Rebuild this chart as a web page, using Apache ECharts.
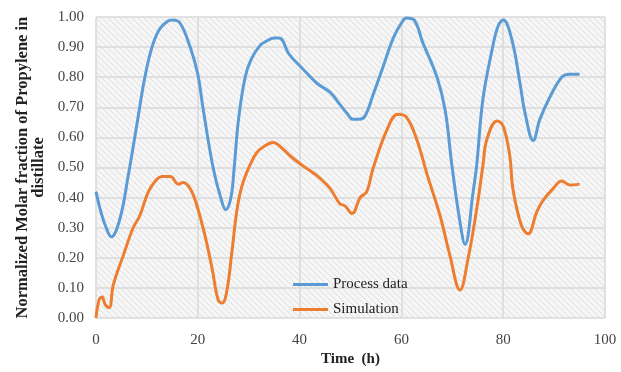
<!DOCTYPE html>
<html>
<head>
<meta charset="utf-8">
<script src="https://cdn.jsdelivr.net/npm/echarts@6/dist/echarts.min.js"></script>
<style>
  html, body { margin: 0; padding: 0; background: #fff; }
  #chart { width: 621px; height: 372px; }
</style>
</head>
<body>
<div id="chart"></div>
<script>
// Process data (time in h, normalized molar fraction)
const processTime = [0, 1, 2, 3, 4.7, 6.3, 8, 9.6, 11, 12.5, 14, 15, 16.5, 18.5, 20, 21, 23, 24.5, 25.5, 26.5, 27.1, 28, 29.3, 30.5, 32.2, 33.5, 35, 36, 38, 40.5, 43.4, 46, 47.9, 49.3, 50.5, 51.5, 52.8, 54.4, 56.4, 58.4, 60, 61, 62.5, 64.2, 67, 68.6, 69.9, 71.5, 72.5, 74.1, 74.8, 76, 77.8, 79, 80, 81.7, 83.3, 84.3, 85.9, 87.2, 89.2, 91.5, 93, 95];
const processValue = [0.42, 0.35, 0.30, 0.27, 0.33, 0.47, 0.64, 0.80, 0.90, 0.96, 0.985, 0.99, 0.98, 0.90, 0.81, 0.70, 0.50, 0.40, 0.36, 0.40, 0.49, 0.66, 0.80, 0.86, 0.905, 0.92, 0.93, 0.93, 0.875, 0.83, 0.78, 0.75, 0.71, 0.68, 0.66, 0.66, 0.67, 0.74, 0.835, 0.93, 0.98, 0.997, 0.99, 0.915, 0.80, 0.69, 0.51, 0.32, 0.245, 0.42, 0.51, 0.725, 0.89, 0.97, 0.99, 0.925, 0.78, 0.68, 0.59, 0.66, 0.735, 0.80, 0.81, 0.81];

// Simulation
const simTime = [0, 0.6, 1.2, 1.8, 2.6, 3.4, 5.4, 7.3, 8.6, 10.3, 11.9, 12.9, 14.6, 16.2, 17.1, 18.5, 19.8, 21.4, 22.8, 24, 24.8, 25.7, 26.7, 27.7, 28.7, 30.3, 31.6, 33, 34.8, 36.5, 38.4, 40.7, 43.4, 46, 47.9, 48.9, 50.3, 51.9, 53.2, 54.4, 57.2, 59.3, 61, 63, 65, 67.6, 69.5, 71.5, 73.1, 74.8, 76, 76.8, 78.8, 80, 81.3, 81.9, 83.6, 84.9, 86.6, 87.8, 89.8, 91.5, 93.1, 95];
const simValue = [0.00, 0.06, 0.07, 0.045, 0.035, 0.11, 0.21, 0.30, 0.34, 0.42, 0.46, 0.47, 0.47, 0.445, 0.45, 0.43, 0.375, 0.275, 0.165, 0.06, 0.05, 0.09, 0.22, 0.36, 0.44, 0.51, 0.55, 0.57, 0.583, 0.565, 0.535, 0.505, 0.473, 0.43, 0.38, 0.373, 0.347, 0.40, 0.42, 0.495, 0.627, 0.677, 0.667, 0.594, 0.48, 0.34, 0.21, 0.093, 0.198, 0.363, 0.505, 0.594, 0.655, 0.637, 0.538, 0.43, 0.307, 0.28, 0.353, 0.39, 0.43, 0.455, 0.442, 0.445];

const xTicks = [0, 20, 40, 60, 80, 100];

function pairs(xs, ys) {
  return xs.map((x, i) => [x, ys[i]]);
}

// light diagonal hatch like the original plot area fill
function hatch() {
  const c = document.createElement('canvas');
  c.width = 6; c.height = 6;
  const ctx = c.getContext('2d');
  ctx.fillStyle = '#f6f6f6';
  ctx.fillRect(0, 0, 6, 6);
  ctx.strokeStyle = '#dedede';
  ctx.lineWidth = 1;
  ctx.beginPath();
  ctx.moveTo(0, 0); ctx.lineTo(6, 6);
  ctx.moveTo(-3, 3); ctx.lineTo(3, 9);
  ctx.moveTo(3, -3); ctx.lineTo(9, 3);
  ctx.stroke();
  return c;
}

const serif = '"Liberation Serif", "DejaVu Serif", serif';
const chart = echarts.init(document.getElementById('chart'));

chart.setOption({
  animation: false,
  textStyle: { fontFamily: serif },
  grid: {
    left: 96, right: 16, top: 17, bottom: 52,
    show: true,
    borderWidth: 0,
    backgroundColor: { image: hatch(), repeat: 'repeat' }
  },
  legend: {
    orient: 'vertical',
    left: 288,
    top: 272,
    itemWidth: 35,
    itemHeight: 3,
    itemGap: 10,
    icon: 'rect',
    textStyle: { fontFamily: serif, fontSize: 15, color: '#222' },
    data: ['Process data', 'Simulation']
  },
  xAxis: {
    type: 'value',
    min: xTicks[0],
    max: xTicks[xTicks.length - 1],
    interval: 20,
    name: 'Time  (h)',
    nameLocation: 'middle',
    nameGap: 33,
    nameTextStyle: { fontFamily: serif, fontWeight: 'bold', fontSize: 15, color: '#222' },
    axisLine: { show: false },
    axisTick: { show: false },
    axisLabel: { fontFamily: serif, fontSize: 15, color: '#444', margin: 14 },
    splitLine: { show: true, lineStyle: { color: '#d9d9d9', width: 1.5 } }
  },
  yAxis: {
    type: 'value',
    min: 0,
    max: 1,
    interval: 0.1,
    name: 'Normalized Molar fraction of Propylene in\ndistillate',
    nameLocation: 'middle',
    nameRotate: 90,
    nameGap: 48,
    nameTextStyle: { fontFamily: serif, fontWeight: 'bold', fontSize: 16.5, color: '#222', lineHeight: 16, align: 'center' },
    axisLine: { show: false },
    axisTick: { show: false },
    axisLabel: { fontFamily: serif, fontSize: 15, color: '#444', margin: 12, formatter: v => v.toFixed(2) },
    splitLine: { show: true, lineStyle: { color: '#d9d9d9', width: 1.5 } }
  },
  series: [
    {
      name: 'Process data',
      type: 'line',
      data: pairs(processTime, processValue),
      smooth: 0.4,
      showSymbol: false,
      color: '#5b9bd5',
      lineStyle: { width: 3, color: '#5b9bd5' }
    },
    {
      name: 'Simulation',
      type: 'line',
      data: pairs(simTime, simValue),
      smooth: 0.4,
      showSymbol: false,
      color: '#ed7d31',
      lineStyle: { width: 3, color: '#ed7d31' }
    }
  ]
});
</script>
</body>
</html>
